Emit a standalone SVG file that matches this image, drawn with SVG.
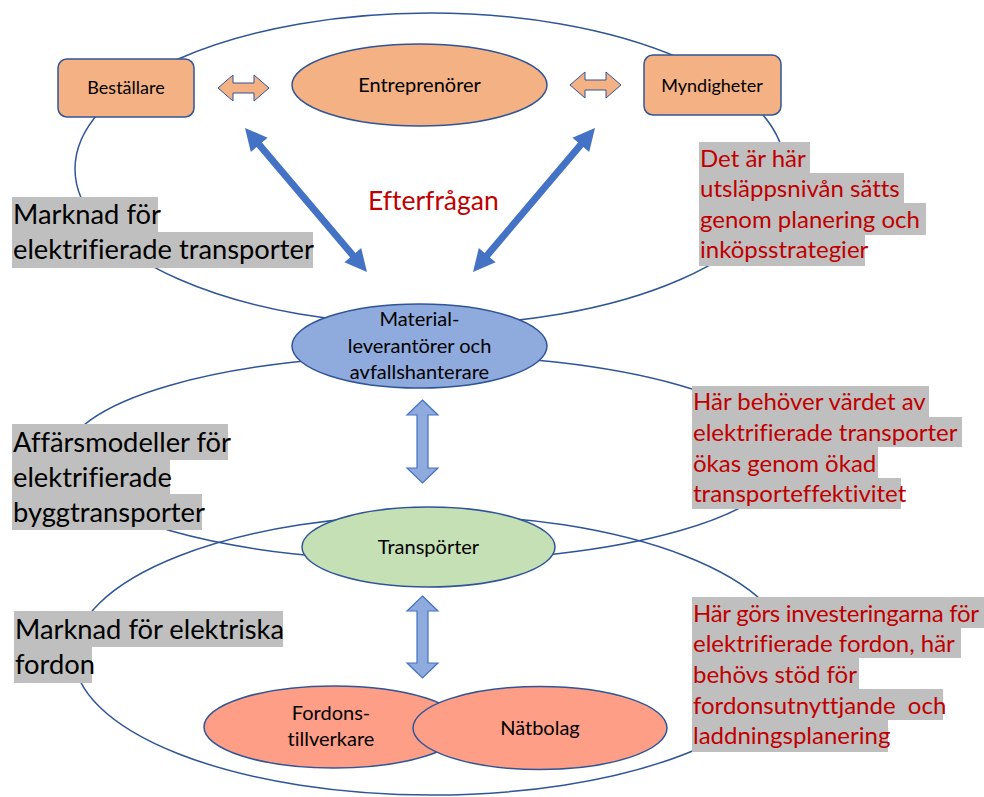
<svg xmlns="http://www.w3.org/2000/svg" width="984" height="797" viewBox="0 0 984 797">
<style>
.region{fill:none;stroke:#2F5597;stroke-width:1.5}
.node{stroke:#2F5597;stroke-width:1.5}
.orange{fill:#F4B183}
.blue{fill:#8FAADC}
.green{fill:#C5E0B4}
.salmon{fill:#FF9E87}
.t{font-family:Lato,"Liberation Sans",sans-serif;fill:#000;font-variant-ligatures:none;white-space:pre}
.nt{font-size:20px;text-anchor:middle}
.st{font-size:18px;text-anchor:middle}
.lab{font-size:27.3px}
.ef{font-size:26.5px}
.red{fill:#C00000}
.rl{font-size:24px}
.bg{fill:#BFBFBF}
.oarrow{fill:#F4B183;stroke:#2F5597;stroke-width:1}
.barrow{fill:#8FAADC;stroke:#4472C4;stroke-width:1.2}
.big{fill:#4472C4}
</style>
<g id="regions">
<ellipse class="region" cx="430" cy="169" rx="355" ry="156"/>
<ellipse class="region" cx="425" cy="458" rx="360" ry="103"/>
<ellipse class="region" cx="432" cy="655" rx="358" ry="140"/>
</g>
<g id="connectors">
<polygon class="oarrow" points="218,88 233,75 233,83 254,83 254,75 269,88 254,101 254,93 233,93 233,101"/>
<polygon class="oarrow" points="570,85 585,72 585,80 606,80 606,72 621,85 606,98 606,90 585,90 585,98"/>
<polygon class="big" points="245,128 250.83,151.9 256.55,147.05 350.11,257.47 344.39,262.32 367,272 361.17,248.1 355.45,252.95 261.89,142.53 267.61,137.68"/>
<polygon class="big" points="595,128 572.39,137.68 578.11,142.53 484.55,252.95 478.83,248.1 473,272 495.61,262.32 489.89,257.47 583.45,147.05 589.17,151.9"/>
<polygon class="barrow" points="422.5,400 438,415 428,415 428,468 438,468 422.5,483 407,468 417,468 417,415 407,415"/>
<polygon class="barrow" points="422.5,596 438,611 428,611 428,663 438,663 422.5,678 407,663 417,663 417,611 407,611"/>
</g>
<g id="bestallare">
<rect class="node orange" x="58" y="59" width="136" height="58" rx="9"/>
<text class="t st" x="126" y="94">Beställare</text>
</g>
<g id="entreprenorer">
<ellipse class="node orange" cx="419.5" cy="85" rx="127.5" ry="41"/>
<text class="t nt" x="419.5" y="92">Entreprenörer</text>
</g>
<g id="myndigheter">
<rect class="node orange" x="644" y="55" width="137" height="60" rx="9"/>
<text class="t st" x="712" y="92">Myndigheter</text>
</g>
<g id="efterfragan">
<text class="t ef red" x="368" y="210">Efterfrågan</text>
</g>
<g id="material">
<ellipse class="node blue" cx="419.5" cy="346" rx="127.5" ry="42"/>
<text class="t nt" x="419.5" y="326">Material-</text>
<text class="t nt" x="419.5" y="353">leverantörer och</text>
<text class="t nt" x="419.5" y="379">avfallshanterare</text>
</g>
<g id="transporter">
<ellipse class="node green" cx="428.5" cy="547" rx="126.5" ry="40"/>
<text class="t nt" x="428.5" y="554">Transpörter</text>
</g>
<g id="fordonstillverkare">
<ellipse class="node salmon" cx="334" cy="727" rx="130" ry="41"/>
<text class="t nt" x="331" y="720">Fordons-</text>
<text class="t nt" x="331" y="746">tillverkare</text>
</g>
<g id="natbolag">
<ellipse class="node salmon" cx="540" cy="728" rx="127" ry="41.5"/>
<text class="t nt" x="540" y="735">Nätbolag</text>
</g>
<g id="label-marknad-transporter">
<rect class="bg" x="12" y="197" width="146" height="35"/>
<rect class="bg" x="12" y="232" width="301" height="36"/>
<text class="t lab" x="13" y="224">Marknad för</text>
<text class="t lab" x="13" y="259">elektrifierade transporter</text>
</g>
<g id="label-affarsmodeller">
<rect class="bg" x="12" y="424" width="216" height="36"/>
<rect class="bg" x="12" y="460" width="158" height="34"/>
<rect class="bg" x="12" y="494" width="190" height="36"/>
<text class="t lab" x="13" y="452">Affärsmodeller för</text>
<text class="t lab" x="13" y="487">elektrifierade</text>
<text class="t lab" x="13" y="522">byggtransporter</text>
</g>
<g id="label-marknad-fordon">
<rect class="bg" x="14" y="611" width="269" height="36"/>
<rect class="bg" x="14" y="647" width="78" height="36"/>
<text class="t lab" x="15" y="639">Marknad för elektriska</text>
<text class="t lab" x="15" y="674">fordon</text>
</g>
<g id="note-utslapp">
<rect class="bg" x="699" y="142" width="111" height="31"/>
<rect class="bg" x="699" y="173" width="205" height="30"/>
<rect class="bg" x="699" y="203" width="227" height="32"/>
<rect class="bg" x="699" y="235" width="166" height="31"/>
<text class="t rl red" x="700" y="167">Det är här</text>
<text class="t rl red" x="700" y="197">utsläppsnivån sätts</text>
<text class="t rl red" x="700" y="228">genom planering och</text>
<text class="t rl red" x="700" y="258">inköpsstrategier</text>
</g>
<g id="note-vardet">
<rect class="bg" x="692" y="386" width="237" height="31"/>
<rect class="bg" x="692" y="417" width="270" height="30"/>
<rect class="bg" x="692" y="447" width="186" height="31"/>
<rect class="bg" x="692" y="478" width="209" height="31"/>
<text class="t rl red" x="693" y="410">Här behöver värdet av</text>
<text class="t rl red" x="693" y="441">elektrifierade transporter</text>
<text class="t rl red" x="693" y="472">ökas genom ökad</text>
<text class="t rl red" x="693" y="502">transporteffektivitet</text>
</g>
<g id="note-investeringar">
<rect class="bg" x="692" y="597" width="292" height="31"/>
<rect class="bg" x="692" y="628" width="269" height="30"/>
<rect class="bg" x="692" y="658" width="167" height="31"/>
<rect class="bg" x="692" y="689" width="251" height="31"/>
<rect class="bg" x="692" y="720" width="196" height="32"/>
<text class="t rl red" x="693" y="622" textLength="286" lengthAdjust="spacing">Här görs investeringarna för</text>
<text class="t rl red" x="693" y="652">elektrifierade fordon, här</text>
<text class="t rl red" x="693" y="683">behövs stöd för</text>
<text class="t rl red" x="693" y="714">fordonsutnyttjande  och</text>
<text class="t rl red" x="693" y="744">laddningsplanering</text>
</g>
</svg>
